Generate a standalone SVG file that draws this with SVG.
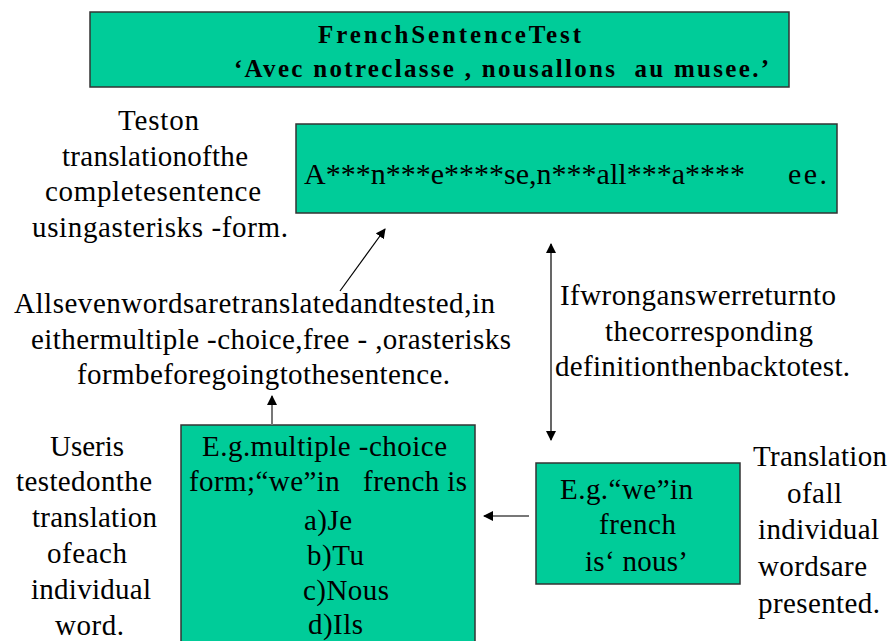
<svg xmlns="http://www.w3.org/2000/svg" width="889" height="641" viewBox="0 0 889 641" font-family="Times New Roman, Liberation Serif, serif" style="font-family:'Liberation Serif','Times New Roman',serif">
<defs>
<marker id="ah" viewBox="0 0 10 10" refX="9" refY="5" markerWidth="10" markerHeight="10" markerUnits="userSpaceOnUse" orient="auto-start-reverse">
<path d="M0,0 L10,5 L0,10 Z" fill="#000"/>
</marker>
</defs>
<style>
.box{fill:#00CC99;stroke:#333;stroke-width:1.5}
.ln{stroke:#000;stroke-width:1.2;fill:none}
.lg{stroke:#777;stroke-width:2;fill:none}
</style>
<rect width="889" height="641" fill="#fff"/>
<g id="title" font-size="25" font-weight="bold" style="font-family:'Liberation Serif','Times New Roman',serif">
<rect class="box" x="90" y="12" width="699" height="75"/>
<text text-anchor="middle" x="449.5" y="43" textLength="263">FrenchSentenceTest</text>
<text x="234" y="77" textLength="535">‘Avec notreclasse , nousallons&#160; au musee.’</text>
</g>
<g id="sentence" font-size="30" style="font-family:'Liberation Serif','Times New Roman',serif">
<rect class="box" x="296" y="124" width="541" height="89"/>
<text x="304" y="184" textLength="441">A***n***e****se,n***all***a****</text>
<text x="788" y="184" textLength="39">ee.</text>
</g>
<g id="label-sentence" font-size="29" text-anchor="middle" style="font-family:'Liberation Serif','Times New Roman',serif">
<text x="158.5" y="130" textLength="81">Teston</text>
<text x="155" y="166" textLength="186">translationofthe</text>
<text x="153" y="201" textLength="216">completesentence</text>
<text x="160" y="237" textLength="256">usingasterisks -form.</text>
</g>
<g id="label-allseven" font-size="29" text-anchor="middle" style="font-family:'Liberation Serif','Times New Roman',serif">
<text x="254.5" y="313" textLength="481">Allsevenwordsaretranslatedandtested,in</text>
<text x="271" y="349" textLength="480">eithermultiple -choice,free - ,orasterisks</text>
<text x="263.5" y="384" textLength="373">formbeforegoingtothesentence.</text>
</g>
<g id="label-wrong" font-size="29" text-anchor="middle" style="font-family:'Liberation Serif','Times New Roman',serif">
<text x="698" y="305" textLength="276">Ifwronganswerreturnto</text>
<text x="709" y="341" textLength="208">thecorresponding</text>
<text x="702.5" y="376" textLength="295">definitionthenbacktotest.</text>
</g>
<g id="multiple-choice" font-size="29" text-anchor="middle" style="font-family:'Liberation Serif','Times New Roman',serif">
<rect class="box" x="181" y="425" width="294" height="230"/>
<text x="324.5" y="456" textLength="245">E.g.multiple -choice</text>
<text x="328" y="491" textLength="278">form;“we”in&#160;&#160; french is</text>
<text x="328" y="530" textLength="48">a)Je</text>
<text x="335.5" y="565" textLength="57">b)Tu</text>
<text x="346" y="600" textLength="86">c)Nous</text>
<text x="335.5" y="634" textLength="55">d)Ils</text>
</g>
<g id="label-user" font-size="29" text-anchor="middle" style="font-family:'Liberation Serif','Times New Roman',serif">
<text x="87" y="456" textLength="74">Useris</text>
<text x="84" y="491" textLength="136">testedonthe</text>
<text x="94.5" y="527" textLength="125">translation</text>
<text x="87" y="563" textLength="80">ofeach</text>
<text x="91" y="599" textLength="120">individual</text>
<text x="89.5" y="635" textLength="69">word.</text>
</g>
<g id="example" font-size="29" text-anchor="middle" style="font-family:'Liberation Serif','Times New Roman',serif">
<rect class="box" x="536" y="463" width="204" height="121"/>
<text x="626.5" y="499" textLength="133">E.g.“we”in</text>
<text x="637.5" y="534" textLength="77">french</text>
<text x="636.5" y="571" textLength="103">is‘ nous’</text>
</g>
<g id="label-translation" font-size="29" text-anchor="middle" style="font-family:'Liberation Serif','Times New Roman',serif">
<text x="820" y="466" textLength="134">Translation</text>
<text x="814.5" y="503" textLength="55">ofall</text>
<text x="818.5" y="539" textLength="121">individual</text>
<text x="812.5" y="576" textLength="109">wordsare</text>
<text x="819" y="613" textLength="122">presented.</text>
</g>
<g id="connectors">
<line class="ln" x1="340" y1="291" x2="385" y2="229" marker-end="url(#ah)"/>
<line class="lg" x1="272" y1="425" x2="272" y2="396" marker-end="url(#ah)"/>
<line class="ln" x1="551" y1="244" x2="551" y2="440" marker-start="url(#ah)" marker-end="url(#ah)"/>
<line class="lg" x1="529" y1="516" x2="484" y2="516" marker-end="url(#ah)"/>
</g>
</svg>
